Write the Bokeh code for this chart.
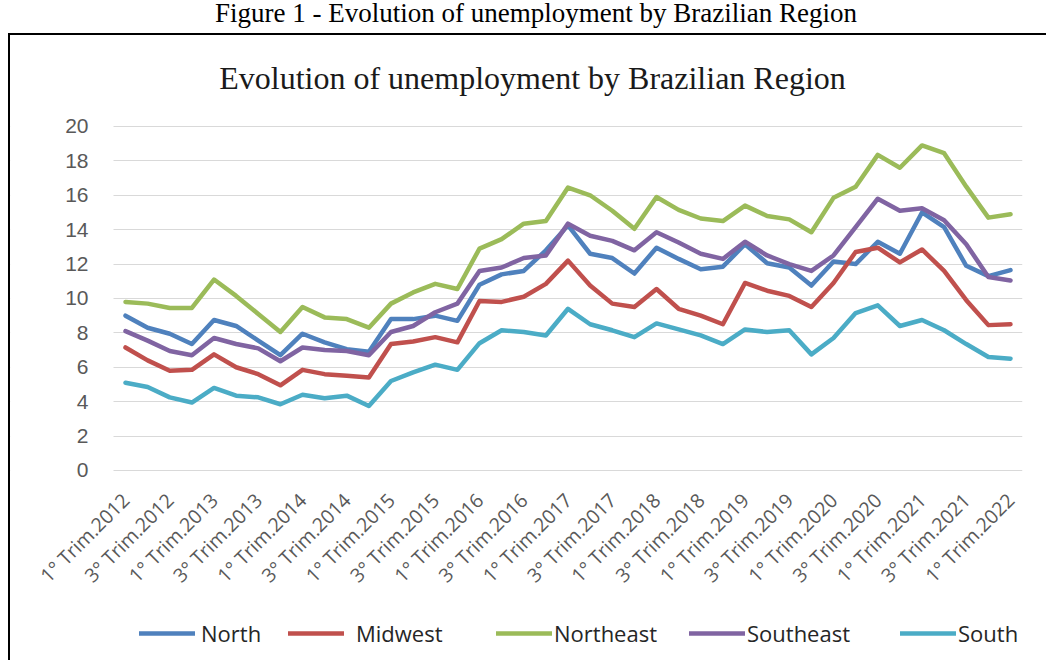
import math
from bokeh.plotting import figure
from bokeh.models import Range1d, FixedTicker, Legend, LegendItem, Div, Spacer, Label, BoxAnnotation
from bokeh.layouts import column, row
from bokeh.embed import file_html
from bokeh.resources import INLINE

quarters = [
    "1° Trim.2012", "2° Trim.2012", "3° Trim.2012", "4° Trim.2012",
    "1° Trim.2013", "2° Trim.2013", "3° Trim.2013", "4° Trim.2013",
    "1° Trim.2014", "2° Trim.2014", "3° Trim.2014", "4° Trim.2014",
    "1° Trim.2015", "2° Trim.2015", "3° Trim.2015", "4° Trim.2015",
    "1° Trim.2016", "2° Trim.2016", "3° Trim.2016", "4° Trim.2016",
    "1° Trim.2017", "2° Trim.2017", "3° Trim.2017", "4° Trim.2017",
    "1° Trim.2018", "2° Trim.2018", "3° Trim.2018", "4° Trim.2018",
    "1° Trim.2019", "2° Trim.2019", "3° Trim.2019", "4° Trim.2019",
    "1° Trim.2020", "2° Trim.2020", "3° Trim.2020", "4° Trim.2020",
    "1° Trim.2021", "2° Trim.2021", "3° Trim.2021", "4° Trim.2021",
    "1° Trim.2022",
]

north = [9.0, 8.3, 7.95, 7.35, 8.75, 8.4, 7.55, 6.7, 7.95, 7.45, 7.05, 6.9,
         8.8, 8.8, 9.0, 8.7, 10.8, 11.4, 11.6, 12.8, 14.25, 12.6, 12.35, 11.45,
         12.95, 12.3, 11.7, 11.85, 13.15, 12.05, 11.8, 10.75, 12.15, 12.0, 13.3,
         12.6, 15.0, 14.15, 11.9, 11.3, 11.65]
midwest = [7.15, 6.4, 5.8, 5.85, 6.75, 6.0, 5.6, 4.95, 5.85, 5.6, 5.5, 5.4,
           7.35, 7.5, 7.75, 7.45, 9.85, 9.8, 10.1, 10.85, 12.2, 10.75, 9.7, 9.5,
           10.55, 9.4, 9.0, 8.5, 10.9, 10.45, 10.15, 9.5, 10.9, 12.7, 12.95,
           12.1, 12.85, 11.6, 9.9, 8.45, 8.5]
northeast = [9.8, 9.7, 9.45, 9.45, 11.1, 10.15, 9.1, 8.05, 9.5, 8.9, 8.8, 8.3,
             9.7, 10.35, 10.85, 10.55, 12.9, 13.45, 14.35, 14.5, 16.45, 16.0,
             15.1, 14.05, 15.9, 15.15, 14.65, 14.5, 15.4, 14.8, 14.6, 13.85,
             15.85, 16.5, 18.35, 17.6, 18.9, 18.45, 16.5, 14.7, 14.9]
southeast = [8.1, 7.55, 6.95, 6.7, 7.7, 7.35, 7.1, 6.35, 7.15, 7.0, 6.95, 6.7,
             8.05, 8.4, 9.2, 9.7, 11.6, 11.8, 12.35, 12.5, 14.35, 13.65, 13.35,
             12.8, 13.85, 13.25, 12.6, 12.3, 13.3, 12.5, 12.0, 11.6, 12.5, 14.15,
             15.8, 15.1, 15.25, 14.55, 13.15, 11.25, 11.05]
south = [5.1, 4.85, 4.25, 3.95, 4.8, 4.35, 4.25, 3.85, 4.4, 4.2, 4.35, 3.75,
         5.2, 5.7, 6.15, 5.85, 7.4, 8.15, 8.05, 7.85, 9.4, 8.5, 8.15, 7.75,
         8.55, 8.2, 7.85, 7.35, 8.2, 8.05, 8.15, 6.75, 7.7, 9.15, 9.6, 8.4,
         8.75, 8.15, 7.35, 6.6, 6.5]

series_names = ["North", "Midwest", "Northeast", "Southeast", "South"]
series_values = [north, midwest, northeast, southeast, south]
series_colors = ["#4F81BD", "#C0504D", "#9BBB59", "#8064A2", "#4BACC6"]

y_ticks = [0, 2, 4, 6, 8, 10, 12, 14, 16, 18, 20]

caption = "Figure 1 - Evolution of unemployment by Brazilian Region"
chart_title = "Evolution of unemployment by Brazilian Region"

x = list(range(len(quarters)))
label_idx = x[::2]

X_LEFT, X_PLOT_LEFT, X_RIGHT = -5.198, -0.542, 40.542

# frame covers the whole box; the value area (0..20) sits inside it
p = figure(
    frame_width=1012, frame_height=625,
    min_border_left=0, min_border_right=16,
    min_border_top=0, min_border_bottom=0,
    x_range=Range1d(X_LEFT, X_RIGHT), y_range=Range1d(-11.05, 25.29),
    output_backend="svg", toolbar_location=None,
    background_fill_color="white", border_fill_color="white",
    outline_line_color=None,
)

p.xgrid.grid_line_color = None
p.ygrid.grid_line_color = "#D9D9D9"
p.ygrid.grid_line_width = 1
p.ygrid.ticker = FixedTicker(ticks=y_ticks)

# white mask so the grid starts at the plot-area edge, not the frame edge
mask = BoxAnnotation(left=X_LEFT, right=X_PLOT_LEFT, bottom=-1, top=21,
                     fill_color="white", fill_alpha=1, line_color=None, level="underlay")
p.add_layout(mask)

p.yaxis.fixed_location = X_PLOT_LEFT
p.yaxis.ticker = FixedTicker(ticks=y_ticks)
p.yaxis.axis_line_color = None
p.yaxis.major_tick_line_color = None
p.yaxis.minor_tick_line_color = None
p.yaxis.major_label_text_font = "Liberation Sans"
p.yaxis.major_label_text_font_size = "21px"
p.yaxis.major_label_text_color = "#595959"
p.yaxis.major_label_standoff = 19

p.xaxis.fixed_location = 0
p.xaxis.ticker = FixedTicker(ticks=label_idx)
p.xaxis.major_label_overrides = {i: quarters[i] for i in label_idx}
p.xaxis.axis_line_color = None
p.xaxis.major_tick_line_color = None
p.xaxis.minor_tick_line_color = None
p.xaxis.major_label_orientation = math.pi / 4
p.xaxis.major_label_text_font = "Open Sans"
p.xaxis.major_label_text_font_size = "19.5px"
p.xaxis.major_label_text_color = "#595959"
p.xaxis.major_label_standoff = 20

renderers = []
for vals, col in zip(series_values, series_colors):
    r = p.line(x, vals, line_color=col, line_width=4.5, line_join="round", line_cap="round")
    renderers.append(r)

# legend positions in pixels from the frame's bottom-left corner
legend_x = [129, 278, 486, 679, 890]
legend_standoff = [6, 12, 2, 2, 2]
for r, name, lx, so in zip(renderers, series_names, legend_x, legend_standoff):
    lg = Legend(items=[LegendItem(label=name, renderers=[r])], location=(lx, 12),
                orientation="horizontal", padding=0, margin=0, spacing=0,
                border_line_color=None, background_fill_alpha=0,
                glyph_width=56, glyph_height=26, label_standoff=so,
                label_text_font="Open Sans", label_text_font_size="22px",
                label_text_color="#262626", label_height=26)
    p.add_layout(lg, "center")

title = Label(x=522, y=583, x_units="screen", y_units="screen", text=chart_title,
              text_align="center", text_baseline="alphabetic",
              text_font="Liberation Serif", text_font_size="32px", text_color="#1a1a1a")
p.add_layout(title)

cap_div = Div(text=f'<div style="width:1004px; margin-left:26px; text-align:center; font-family:\'Liberation Serif\'; font-size:27px; line-height:26px; color:#000; white-space:nowrap;">{caption}</div>',
              width=1030, height=33, margin=0)
top_line = Div(text="", width=1038, height=2, margin=0, styles={"background-color": "#000"})
left_line = Div(text="", width=2, height=625, margin=0, styles={"background-color": "#000"})

content = column(cap_div, top_line, row(left_line, p, spacing=0), spacing=0)
layout = row(Spacer(width=8, height=10, margin=0), content, spacing=0)

open("out.html", "w").write(file_html(layout, INLINE))
